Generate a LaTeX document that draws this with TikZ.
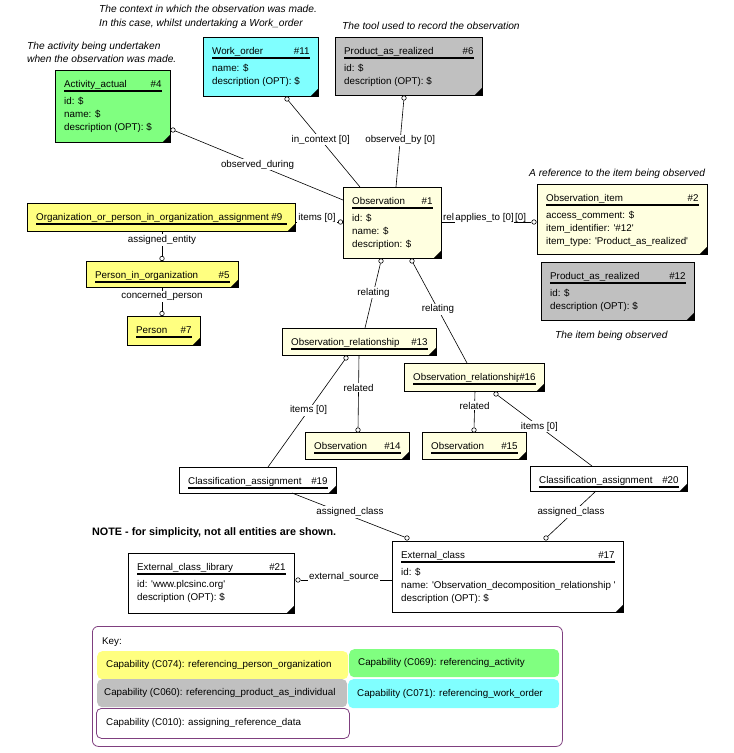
\documentclass[tikz,border=0pt]{standalone}
\usepackage{fontspec}
\setmainfont{Liberation Sans}
\usetikzlibrary{calc}
\definecolor{cyel}{HTML}{FFFF80}
\definecolor{clyel}{HTML}{FFFFE0}
\definecolor{cgrn}{HTML}{80FF80}
\definecolor{ccya}{HTML}{80FFFF}
\definecolor{cgry}{HTML}{C0C0C0}
\definecolor{cpur}{HTML}{7F3F7F}
\newcommand{\sq}{\textquotesingle}
\tikzset{
  ebox/.style={draw=black, line width=0.8pt, inner sep=0pt, anchor=north west},
  etxt/.style={inner sep=0pt, font=\fontsize{9.8}{13}\selectfont},
  lbl/.style={font=\fontsize{9.8}{13}\selectfont, inner sep=1pt, fill=white},
  note/.style={font=\fontsize{10.2}{13}\selectfont\itshape, inner sep=0pt, anchor=base west},
  conn/.style={line width=0.6pt},
  dot/.style={circle, draw, fill=white, line width=0.6pt, inner sep=0pt, minimum size=4.5pt},
  keybox/.style={rounded corners=5pt, inner sep=0pt, anchor=north west},
}
\newcommand{\ent}[9]{%
  \node[ebox, fill=#6, minimum width=#4pt, minimum height=#5pt] (#1) at (#2,-#3) {};
  \node[etxt, anchor=base west] at ($(#1.north west)+(9,-17.5)$) {#7};
  \node[etxt, anchor=base east, fill=#6] at ($(#1.north east)+(-9,-17.5)$) {#8};
  \draw[line width=1.3pt] ($(#1.north west)+(9,-21)$) -- ($(#1.north east)+(-9,-21)$);
  \foreach \ea [count=\nn] in {#9} {\node[etxt, anchor=base west] at ($(#1.north west)+(9,{-34.5-13*(\nn-1)})$) {\ea};}
  \fill ($(#1.south east)+(-0.4,0.4)$) -- ++(-8,0) -- ++(8,8) -- cycle;
}
\begin{document}
\begin{tikzpicture}[x=1pt,y=1pt]
\fill[white] (0,0) rectangle (734,-753);
\useasboundingbox (0,0) rectangle (734,-753);

% annotations
\node[note] (n1) at (99,-12.5) {The context in which the observation was made.};
\node[note] (n2) at (99,-26.5) {In this case, whilst undertaking a Work\_order};
\node[note] (n3) at (27,-49.5) {The activity being undertaken};
\node[note] (n4) at (27,-62.5) {when the observation was made.};
\node[note] (n5) at (342,-29.5) {The tool used to record the observation};
\node[note] (n6) at (529,-176.5) {A reference to the item being observed};
\node[note] (n7) at (555,-338.5) {The item being observed};
\node[anchor=base west, inner sep=0pt, font=\fontsize{10.8}{13}\selectfont\bfseries] (note) at (92,-535) {NOTE - for simplicity, not all entities are shown.};

% entities
\ent{A4}{55}{70}{115}{72}{cgrn}{Activity\_actual}{\#4}{id: \$, name: \$, description (OPT): \$}
\ent{W11}{203}{37}{115}{59}{ccya}{Work\_order}{\#11}{name: \$, description (OPT): \$}
\ent{P6}{335}{37}{147}{58}{cgry}{Product\_as\_realized}{\#6}{id: \$, description (OPT): \$}
\ent{O1}{343}{187}{98}{71}{clyel}{Observation}{\#1}{id: \$, name: \$, description: \$}
\ent{OI2}{537}{184}{170}{70}{clyel}{Observation\_item}{\#2}{access\_comment: \$, item\_identifier: \sq\#12\sq, item\_type: \sq Product\_as\_realized\sq}
\ent{P12}{541}{262}{153}{58}{cgry}{Product\_as\_realized}{\#12}{id: \$, description (OPT): \$}
\ent{OA9}{27}{203}{268}{28}{cyel}{Organization\_or\_person\_in\_organization\_assignment \#9}{}{}
\ent{PO5}{86}{261}{152}{26}{cyel}{Person\_in\_organization}{\#5}{}
\ent{PE7}{127}{316}{73}{29}{cyel}{Person}{\#7}{}
\ent{OR13}{282}{328}{154}{27}{clyel}{Observation\_relationship}{\#13}{}
\ent{OR16}{404}{363}{140}{28}{clyel}{Observation\_relationship}{\#16}{}
\ent{O14}{305}{432}{104}{27}{clyel}{Observation}{\#14}{}
\ent{O15}{422}{432}{104}{27}{clyel}{Observation}{\#15}{}
\ent{CA19}{179}{467}{157}{26}{white}{Classification\_assignment}{\#19}{}
\ent{CA20}{530}{466}{157}{25}{white}{Classification\_assignment}{\#20}{}
\ent{EC17}{392}{541}{231}{71}{white}{External\_class}{\#17}{id: \$, name: \sq Observation\_decomposition\_relationship \sq, description (OPT): \$}
\ent{EL21}{128}{553}{166}{60}{white}{External\_class\_library}{\#21}{id: \sq www.plcsinc.org\sq, description (OPT): \$}

% connectors
\node[dot] (d1) at (173,-130) {};
\coordinate (e1) at (343,-200);
\draw[conn] (d1) -- (e1) node[lbl, pos=0.49] {observed\_during};

\node[dot] (d2) at (287,-99) {};
\coordinate (e2) at (360,-187);
\draw[conn] (d2) -- (e2) node[lbl, pos=0.45] {in\_context [0]};

\node[dot] (d3) at (404,-98) {};
\coordinate (e3) at (396,-187);
\draw[conn] (d3) -- (e3) node[lbl, pos=0.46] {observed\_by [0]};

\coordinate (e4) at (295,-222);
\node[dot] (d4) at (340.5,-222) {};
\draw[conn] (e4) -- (d4);
\node[lbl] (l4) at (317,-218) {items [0]};

\coordinate (e5) at (441,-222);
\node[dot] (d5) at (534,-222) {};
\draw[conn] (e5) -- (d5);
\node[etxt, anchor=base west] (l5a) at (443,-220) {rel};
\node[etxt, anchor=base west, fill=white, inner sep=0.6pt] (l5b) at ($(l5a.base east)+(0.4,0)$) {applies\_to [0]};
\node[etxt, anchor=base west] (l5c) at ($(l5b.base east)+(0.4,0)$) {[0]};

\coordinate (e15) at (162,-231);
\node[dot] (d15) at (162,-258.5) {};
\draw[conn] (e15) -- (d15) node[lbl, pos=0.36] {assigned\_entity};

\coordinate (e16) at (162,-287);
\node[dot] (d16) at (162,-313.5) {};
\draw[conn] (e16) -- (d16) node[lbl, pos=0.38] {concerned\_person};

\node[dot] (d6) at (381,-261) {};
\coordinate (e6) at (365,-328);
\draw[conn] (d6) -- (e6) node[lbl, pos=0.45] {relating};

\node[dot] (d7) at (412,-261) {};
\coordinate (e7) at (467,-363);
\draw[conn] (d7) -- (e7) node[lbl, pos=0.46] {relating};

\coordinate (e8) at (359,-355);
\node[dot] (d8) at (358,-430) {};
\draw[conn] (e8) -- (d8) node[lbl, pos=0.45] {related};

\node[dot] (d9) at (346,-358) {};
\coordinate (e9) at (268,-467);
\draw[conn] (d9) -- (e9) node[lbl, pos=0.47] {items [0]};

\coordinate (e10) at (475,-391);
\node[dot] (d10) at (474,-430) {};
\draw[conn] (e10) -- (d10) node[lbl, pos=0.4] {related};

\node[dot] (d11) at (496,-394) {};
\coordinate (e11) at (592,-466);
\draw[conn] (d11) -- (e11) node[lbl, pos=0.44] {items [0]};

\coordinate (e12) at (292,-493);
\node[dot] (d12) at (407,-538) {};
\draw[conn] (e12) -- (d12);
\node[lbl] (l12) at (350,-512) {assigned\_class};

\coordinate (e13) at (596,-491);
\node[dot] (d13) at (546,-538) {};
\draw[conn] (e13) -- (d13);
\node[lbl] (l13) at (571,-512) {assigned\_class};

\node[dot] (d14) at (298,-580) {};
\coordinate (e14) at (392,-580);
\draw[conn] (d14) -- (e14);
\node[lbl] (l14) at (344,-577) {external\_source};

% key
\node[draw=cpur, line width=0.8pt, rounded corners=6pt, minimum width=470pt, minimum height=120pt, anchor=north west, inner sep=0pt] (key) at (92,-626) {};
\node[etxt, anchor=west] (keyt) at (102,-642) {Key:};
\node[keybox, fill=cyel, minimum width=251pt, minimum height=28pt] (k1) at (97,-651) {};
\node[keybox, fill=cgrn, minimum width=210pt, minimum height=28pt] (k2) at (349,-649) {};
\node[keybox, fill=cgry, minimum width=250pt, minimum height=28pt] (k3) at (97,-679) {};
\node[keybox, fill=ccya, minimum width=211pt, minimum height=29pt] (k4) at (348,-679) {};
\node[keybox, draw=cpur, line width=0.8pt, fill=white, minimum width=253pt, minimum height=30pt] (k5) at (96,-708) {};
\node[etxt, anchor=west] at ($(k1.west)+(9,0)$) {Capability (C074): referencing\_person\_organization};
\node[etxt, anchor=west] at ($(k2.west)+(9,0)$) {Capability (C069): referencing\_activity};
\node[etxt, anchor=west] at ($(k3.west)+(7,0)$) {Capability (C060): referencing\_product\_as\_individual};
\node[etxt, anchor=west] at ($(k4.west)+(9,0)$) {Capability (C071): referencing\_work\_order};
\node[etxt, anchor=west] at ($(k5.west)+(10,0)$) {Capability (C010): assigning\_reference\_data};
\end{tikzpicture}
\end{document}
